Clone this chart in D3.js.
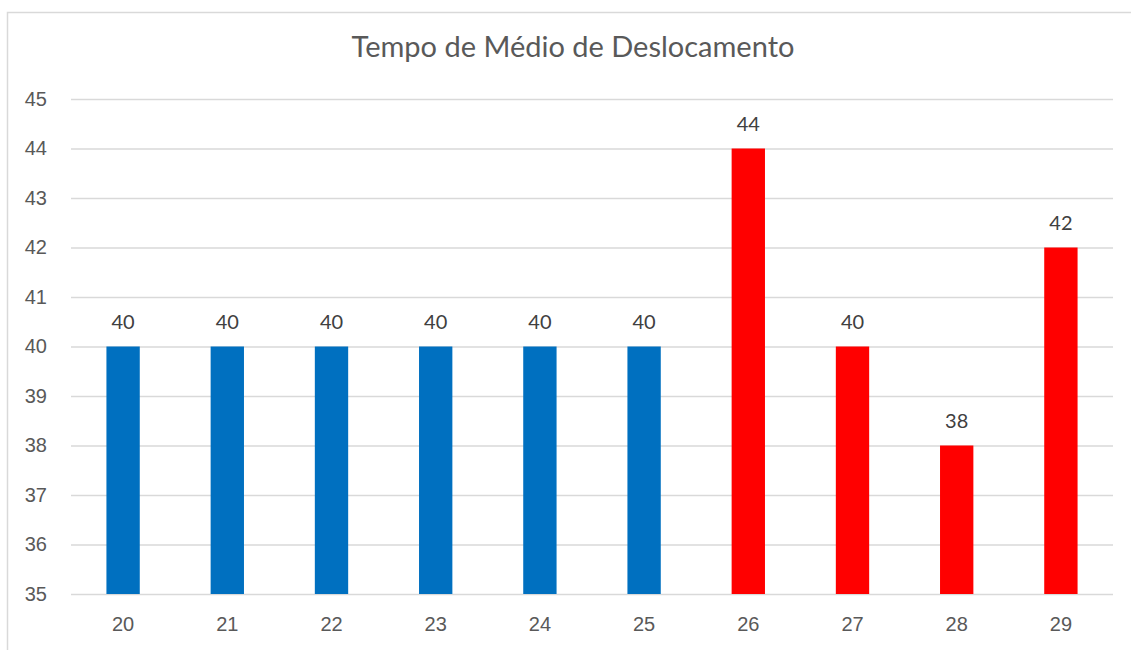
<!DOCTYPE html>
<html>
<head>
<meta charset="utf-8">
<script src="https://cdn.jsdelivr.net/npm/d3@7"></script>
<style>
  html, body { margin: 0; padding: 0; background: #fff; }
  svg { display: block; font-family: Lato, "Open Sans", sans-serif; }
</style>
</head>
<body>
<svg id="chart" width="1131" height="650"></svg>
<script>
// chart data
var title = 'Tempo de Médio de Deslocamento';
var categories = ['20', '21', '22', '23', '24', '25', '26', '27', '28', '29'];
var values = [40, 40, 40, 40, 40, 40, 44, 40, 38, 42];
var barColors = ['#0070C0', '#0070C0', '#0070C0', '#0070C0', '#0070C0', '#0070C0',
                 '#FF0000', '#FF0000', '#FF0000', '#FF0000'];
var yTicks = [35, 36, 37, 38, 39, 40, 41, 42, 43, 44, 45];

(function() {
    var svg = d3.select('#chart');
    var margin = { left: 71, right: 1113, top: 99, bottom: 594 };

    // chart frame (top + left edges visible in the shot)
    svg.append('path')
        .attr('d', 'M7.5,650 L7.5,12.5 L1131,12.5')
        .attr('fill', 'none')
        .attr('stroke', '#d9d9d9')
        .attr('stroke-width', 1.5);

    var x = d3.scaleBand()
        .domain(categories)
        .range([margin.left, margin.right])
        .paddingInner(0.68)
        .paddingOuter(0.34);

    var y = d3.scaleLinear()
        .domain([35, 45])
        .range([margin.bottom, margin.top]);

    // gridlines
    var yAxis = d3.axisLeft(y)
        .tickValues(yTicks)
        .tickSize(-(margin.right - margin.left))
        .tickPadding(24)
        .tickFormat(d3.format('d'));

    var gy = svg.append('g')
        .attr('transform', 'translate(' + margin.left + ',0)')
        .call(yAxis);
    gy.select('.domain').remove();
    gy.selectAll('.tick line')
        .attr('stroke', '#d9d9d9')
        .attr('stroke-width', 1.5);
    gy.selectAll('.tick text')
        .attr('fill', '#595959')
        .style('font-size', '20px');

    // bars
    svg.append('g').selectAll('rect')
        .data(values)
        .join('rect')
        .attr('x', function(d, i) { return x(categories[i]); })
        .attr('y', function(d) { return y(d); })
        .attr('width', x.bandwidth())
        .attr('height', function(d) { return y(35) - y(d); })
        .attr('fill', function(d, i) { return barColors[i]; });

    // data labels
    svg.append('g').selectAll('text')
        .data(values)
        .join('text')
        .attr('x', function(d, i) { return x(categories[i]) + x.bandwidth() / 2; })
        .attr('y', function(d) { return y(d) - 18; })
        .attr('text-anchor', 'middle')
        .attr('fill', '#404040')
        .style('font-size', '20px')
        .text(function(d) { return d; });

    // x axis labels
    var xAxis = d3.axisBottom(x).tickSize(0).tickPadding(23);
    var gx = svg.append('g')
        .attr('transform', 'translate(0,' + margin.bottom + ')')
        .call(xAxis);
    gx.select('.domain').remove();
    gx.selectAll('.tick text')
        .attr('fill', '#595959')
        .style('font-size', '20px');

    // title
    svg.append('text')
        .attr('x', 573)
        .attr('y', 57)
        .attr('text-anchor', 'middle')
        .attr('fill', '#595959')
        .style('font-size', '29px')
        .text(title);
}());
</script>
</body>
</html>
